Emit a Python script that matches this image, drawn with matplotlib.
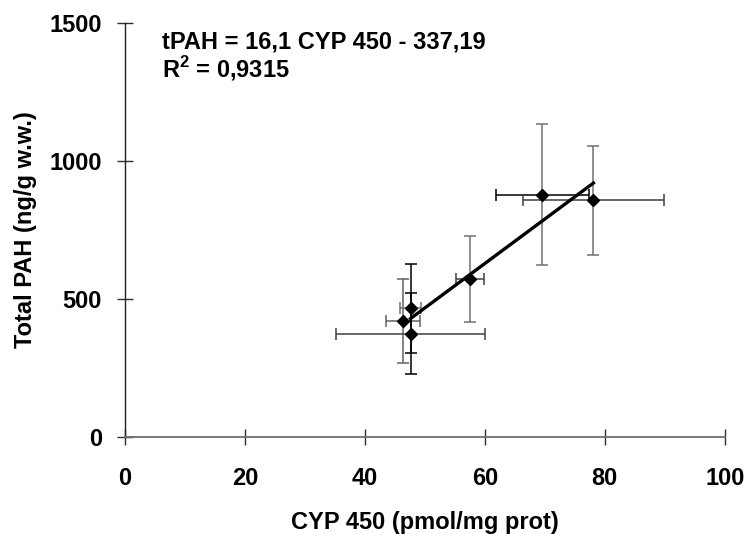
import numpy as np
import matplotlib
matplotlib.use("Agg")
import matplotlib.pyplot as plt

plt.rcParams['font.family'] = ['Liberation Sans', 'DejaVu Sans']
plt.rcParams['mathtext.fontset'] = 'custom'
plt.rcParams['mathtext.bf'] = 'Liberation Sans:bold'
plt.rcParams['mathtext.rm'] = 'Liberation Sans:bold'

# Data
cyp = [46.3, 47.6, 47.6, 57.5, 69.6, 78.1]
cyp_err = [2.8, 1.8, 12.4, 2.4, 7.8, 11.8]
tpah = [420, 466, 375, 571, 878, 857]
tpah_err = [153, 160, 147, 156, 256, 197]
yerr_colors = ['#606060', '#000000', '#000000', '#707070', '#707070', '#707070']
xerr_colors = ['#606060', '#707070', '#404040', '#404040', '#000000', '#404040']

slope = 16.1
intercept = -337.19
x_ticks = [0, 20, 40, 60, 80, 100]
y_ticks = [0, 500, 1000, 1500]

FS = 17

fig = plt.figure(figsize=(7.46, 5.34), dpi=100)
ax = fig.add_axes([0.1676, 0.1816, 0.804, 0.7754])

for i in range(len(cyp)):
    ax.errorbar(cyp[i], tpah[i], yerr=tpah_err[i], fmt='none', ecolor=yerr_colors[i],
                elinewidth=1.1, capsize=4.5, capthick=1.1, zorder=2)
    ax.errorbar(cyp[i], tpah[i], xerr=cyp_err[i], fmt='none', ecolor=xerr_colors[i],
                elinewidth=1.1, capsize=4.5, capthick=1.1, zorder=2)

fx = np.array([cyp[1], max(cyp)])
ax.plot(fx, slope * fx + intercept, color='black', lw=2.4, zorder=3)
ax.plot(cyp, tpah, linestyle='none', marker='D', color='black', markersize=6.5, zorder=4)

ax.set_xlim(0, 100)
ax.set_ylim(0, 1500)
ax.set_xticks(x_ticks)
ax.set_yticks(y_ticks)
ax.spines['top'].set_visible(False)
ax.spines['right'].set_visible(False)
ax.spines['bottom'].set_color('#707070')
ax.spines['bottom'].set_linewidth(1.3)
ax.spines['left'].set_color('#202020')
ax.spines['left'].set_linewidth(1.0)
ax.tick_params(axis='x', direction='inout', length=11, width=1.0, color='#303030',
               labelsize=FS, pad=16)
ax.tick_params(axis='y', direction='inout', length=11, width=1.0, color='#303030',
               labelsize=FS, pad=11)
for lab in ax.get_xticklabels() + ax.get_yticklabels():
    lab.set_fontweight('bold')

ax.set_xlabel('CYP 450 (pmol/mg prot)', fontsize=FS, fontweight='bold', labelpad=15)
ax.set_ylabel('Total PAH (ng/g w.w.)', fontsize=FS, fontweight='bold', labelpad=9)

ax.text(6.1, 1406, 'tPAH = 16,1 CYP 450 - 337,19', fontsize=FS, fontweight='bold',
        va='baseline', ha='left')
ax.text(6.1, 1304, r'R$^{\mathbf{2}}$ = 0,9315', fontsize=FS, fontweight='bold',
        va='baseline', ha='left')

fig.savefig('out.png', dpi=100)
